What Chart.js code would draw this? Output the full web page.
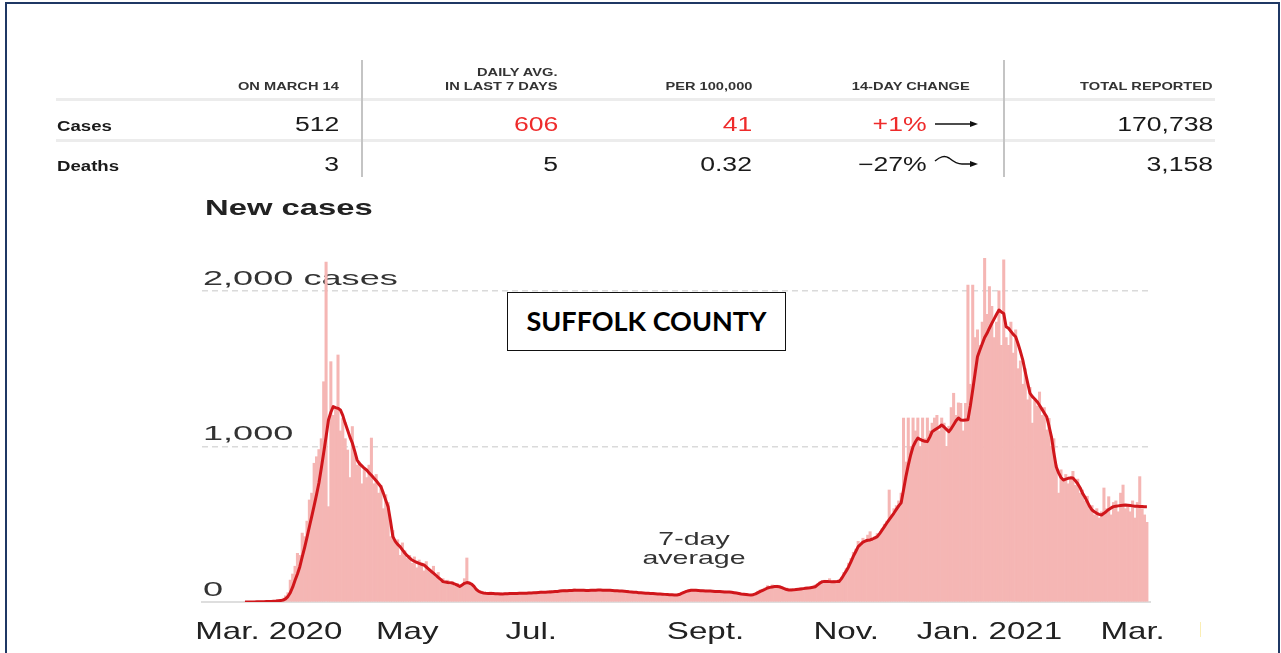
<!DOCTYPE html>
<html>
<head>
<meta charset="utf-8">
<script src="https://cdn.jsdelivr.net/npm/chart.js@4.4.1/dist/chart.umd.min.js"></script>
<style>
html, body { margin: 0; padding: 0; background: #fff; }
body { width: 1281px; height: 653px; overflow: hidden; position: relative;
       font-family: "Liberation Sans", Arial, sans-serif; color: #1a1a1a; }
#frame { position: absolute; left: 5px; top: 2px; width: 1275px; height: 720px;
         border: 2px solid #1f3864; box-sizing: border-box; }
#chart { position: absolute; left: 0; top: 0; }
.t { position: absolute; white-space: nowrap; line-height: 1; }
.hline { position: absolute; height: 3px; background: #ececec; }
.vline { position: absolute; width: 2px; background: #c4c4c4; }
#county { position: absolute; left: 507px; top: 292px; width: 279px; height: 59px;
          box-sizing: border-box; border: 1.5px solid #111; background: #fff;
          font: bold 27px Lato, "Open Sans", sans-serif; color: #000;
          text-align: center; line-height: 56px; }
#avgNote { position: absolute; left: 594px; top: 529px; width: 200px; text-align: center;
           font-size: 19px; line-height: 19px; color: #333; transform: scaleX(1.5); }
</style>
</head>
<body>
<div id="frame"></div>
<canvas id="chart" width="1281" height="653"></canvas>
<div id="county">SUFFOLK COUNTY</div>
<div id="avgNote">7-day<br>average</div>

<script>
// ---- table values ----
const colHeads = ["ON MARCH 14", "IN LAST 7 DAYS", "PER 100,000", "14-DAY CHANGE", "TOTAL REPORTED"];
const rowNames = ["Cases", "Deaths"];
const casesRow = ["512", "606", "41", "+1%", "170,738"];
const deathsRow = ["3", "5", "0.32", "\u221227%", "3,158"];

// ---- chart values (one per day, Mar 1 2020 .. Mar 14 2021) ----
const dailyCases = [
  0,0,0,0,1,1,2,2,3,4,
  2,5,6,8,10,12,25,40,60,141,
  180,230,313,300,443,420,520,656,700,892,
  934,980,1050,1416,2186,613,1545,1200,1250,1588,
  1100,1180,1050,977,800,1128,960,880,900,760,
  850,800,880,1054,760,820,700,750,600,690,
  640,420,460,380,400,300,380,330,280,300,
  250,290,220,270,250,200,260,210,190,230,
  160,190,130,150,120,140,110,130,100,120,
  90,110,150,283,130,110,90,70,60,70,
  50,60,55,65,45,55,50,60,48,58,
  55,50,60,52,62,50,58,60,54,64,
  55,62,66,58,70,60,66,62,75,68,
  62,72,76,70,80,68,78,72,85,74,
  70,80,74,72,78,70,82,76,80,74,
  72,80,74,78,70,76,68,74,66,72,
  64,70,60,66,58,64,56,62,54,60,
  52,58,50,56,48,54,46,52,44,50,
  42,48,52,60,66,72,78,82,74,80,
  70,78,68,76,66,74,64,72,66,70,
  62,70,60,68,58,64,54,60,50,56,
  44,50,42,55,58,70,78,82,90,105,
  98,110,96,108,92,100,82,90,74,84,
  72,88,78,92,80,96,86,100,90,110,
  118,130,125,140,128,150,120,138,126,145,
  160,190,215,250,280,320,340,390,360,410,
  380,430,452,400,420,440,430,470,500,520,
  720,560,600,620,650,700,1183,900,1183,1000,
  1183,1100,1183,1000,1183,1050,1183,1100,1150,1183,
  1200,1100,1183,1150,1000,1130,1250,1342,1200,1280,
  1277,1100,1277,2038,1400,2038,1700,1750,1650,1800,
  2210,1850,2027,1900,1700,1800,2000,1650,2199,1700,
  1650,1800,1600,1750,1500,1550,1400,1500,1300,1380,
  1150,1300,1260,1350,1200,1250,1106,1180,1000,1050,
  880,700,850,780,820,760,800,840,750,790,
  700,720,650,680,600,620,560,600,540,580,
  733,600,677,560,640,650,580,700,752,600,
  620,580,650,540,640,806,600,560,512
];

const sevenDayAvg = [
  0,0,0,0,0,1,1,2,2,3,
  3,4,5,6,8,10,12,20,35,60,
  95,140,180,227,290,350,415,484,550,620,
  690,765,860,960,1062,1170,1220,1256,1250,1245,
  1235,1200,1150,1106,1060,1022,970,913,890,875,
  860,849,830,815,797,780,760,741,700,655,
  613,520,420,390,370,356,335,315,298,284,
  270,262,255,248,243,238,225,212,198,186,
  172,158,145,131,128,125,123,122,115,108,
  100,110,120,125,122,115,100,80,68,62,
  58,56,55,54,54,53,53,52,52,53,
  53,54,54,55,55,56,56,57,57,58,
  58,59,60,61,62,62,63,64,65,66,
  67,68,70,72,72,73,74,74,75,76,
  76,75,75,74,74,75,76,76,77,77,
  76,76,75,75,74,73,72,71,70,69,
  68,66,65,63,62,60,59,58,57,56,
  55,54,53,52,51,50,49,48,47,46,
  45,45,48,55,62,68,72,75,76,75,
  74,73,72,71,70,70,69,68,68,67,
  66,65,65,64,62,60,58,55,52,50,
  48,46,45,47,52,60,68,75,82,90,
  94,97,99,100,98,92,86,80,77,77,
  78,80,82,84,86,88,90,92,95,98,
  110,122,131,132,132,131,130,130,131,131,
  150,175,200,227,260,295,325,356,370,385,
  392,397,399,405,412,420,440,462,485,508,
  530,551,572,595,618,637,720,806,880,945,
  999,1030,1054,1045,1038,1033,1031,1060,1095,1105,
  1115,1125,1138,1125,1110,1095,1115,1140,1165,1183,
  1170,1168,1170,1172,1260,1363,1470,1577,1620,1660,
  1700,1727,1760,1791,1820,1850,1877,1865,1855,1770,
  1760,1740,1720,1705,1660,1610,1555,1480,1410,1342,
  1320,1305,1288,1265,1240,1215,1191,1130,1062,960,
  870,830,800,784,790,795,798,797,780,760,
  735,700,675,645,615,591,580,570,563,559,
  570,582,595,605,613,616,618,620,622,624,
  622,620,618,616,615,614,614,613,613
];

const yTickValues = [0, 1000, 2000];
const yTickLabels = ["0", "1,000", "2,000 cases"];
const xTickDays = [10, 68, 120, 193, 252, 312, 372];
const xTickLabels = ["Mar. 2020", "May", "Jul.", "Sept.", "Nov.", "Jan. 2021", "Mar."];

/* ================= TABLE ================= */

function txt(str, x, baseline, size, opts) {
    opts = opts || {};
    const el = document.createElement("div");
    el.className = "t";
    el.textContent = str;
    el.style.fontSize = size + "px";
    el.style.top = (baseline - 0.8465 * size) + "px";
    if (opts.bold) el.style.fontWeight = "bold";
    if (opts.color) el.style.color = opts.color;
    const sx = opts.sx || 1.33;
    if (opts.align === "left") {
        el.style.left = x + "px";
        el.style.transformOrigin = "left top";
    } else {
        el.style.right = (1281 - x) + "px";
        el.style.transformOrigin = "right top";
    }
    el.style.transform = "scaleX(" + sx + ")";
    document.body.appendChild(el);
    return el;
}

function box(cls, left, top, w, h) {
    const el = document.createElement("div");
    el.className = cls;
    el.style.left = left + "px";
    el.style.top = top + "px";
    if (w) el.style.width = w + "px";
    if (h) el.style.height = h + "px";
    document.body.appendChild(el);
    return el;
}

box("hline", 56, 98, 1159);
box("hline", 56, 139, 1159);
box("vline", 361, 60, 0, 117);
box("vline", 1003, 60, 0, 117);

const headRight = [339, 558, 752, 970, 1213];
const valRight = [339, 558, 752, 927, 1213];
const red = "#ee2b2b";

txt("DAILY AVG.", 558, 76, 11, {bold: true, color: "#333"});
colHeads.forEach((h, i) => txt(h, headRight[i], 90, 11, {bold: true, color: "#333"}));

txt(rowNames[0], 57, 131, 14, {bold: true, align: "left"});
txt(rowNames[1], 57, 171, 14, {bold: true, align: "left"});

casesRow.forEach((v, i) => txt(v, valRight[i], 131, 20, {color: (i >= 1 && i <= 3) ? red : "#1a1a1a"}));
deathsRow.forEach((v, i) => txt(v, valRight[i], 171, 20));

// trend arrows
document.body.insertAdjacentHTML("beforeend",
    '<svg style="position:absolute;left:930px;top:114px" width="52" height="60">' +
    '<path d="M5 10 L42 10" stroke="#111" stroke-width="1.5" fill="none"/>' +
    '<path d="M40 7 L48 10 L40 13 Z" fill="#111"/>' +
    '<path d="M5 47 C10 43 14 41 19 44 C24 48 27 50 32 50 L42 50" stroke="#111" stroke-width="1.5" fill="none"/>' +
    '<path d="M40 47 L48 50 L40 53 Z" fill="#111"/>' +
    '</svg>');

txt("New cases", 205, 216, 22, {bold: true, align: "left", sx: 1.49, color: "#222"});

// small yellow mark at right of axis
box("t", 1200, 622, 1, 15).style.background = "#fbeeb4";

/* ================= CHART ================= */

const axisText = {
    id: "axisText",
    beforeDatasetsDraw(chart) {
        const {ctx, chartArea} = chart;
        const y = chart.scales.y;
        ctx.save();
        ctx.font = '21px "Liberation Sans"';
        ctx.fillStyle = "#333";
        yTickValues.forEach((v, i) => {
            ctx.save();
            ctx.translate(chartArea.left + 1, y.getPixelForValue(v) - 6);
            ctx.scale(1.72, 1);
            ctx.fillText(yTickLabels[i], 0, 0);
            ctx.restore();
        });
        ctx.restore();
    },
    afterDraw(chart) {
        const {ctx} = chart;
        const x = chart.scales.x;
        ctx.save();
        ctx.font = '24px "Liberation Sans"';
        ctx.fillStyle = "#222";
        ctx.textAlign = "center";
        xTickDays.forEach((d, i) => {
            ctx.save();
            ctx.translate(x.getPixelForValue(d), 639);
            ctx.scale(1.38, 1);
            ctx.fillText(xTickLabels[i], 0, 0);
            ctx.restore();
        });
        ctx.restore();
    }
};

const ctx = document.getElementById("chart").getContext("2d");

new Chart(ctx, {
    type: "bar",
    data: {
        datasets: [{
            type: "line",
            label: "7-day average",
            data: sevenDayAvg.map((v, i) => ({x: i, y: v})),
            borderColor: "#d0161b",
            borderWidth: 3,
            pointRadius: 0,
            tension: 0,
            borderJoinStyle: "round",
            order: 0
        }, {
            type: "bar",
            label: "New cases",
            data: dailyCases.map((v, i) => ({x: i, y: v})),
            backgroundColor: "#f5b6b4",
            barPercentage: 1,
            categoryPercentage: 1,
            borderWidth: 0,
            order: 1
        }]
    },
    options: {
        responsive: false,
        animation: false,
        layout: {padding: {left: 202, right: 131, top: 252, bottom: 51}},
        plugins: {legend: {display: false}, tooltip: {enabled: false}},
        scales: {
            x: {
                type: "linear",
                offset: false,
                min: -18,
                max: 379.3,
                ticks: {display: false},
                grid: {display: false, drawTicks: false, offset: false},
                border: {display: true, color: "#dedede", width: 2}
            },
            y: {
                min: 0,
                max: 2250,
                afterBuildTicks: s => { s.ticks = yTickValues.map(v => ({value: v})); },
                ticks: {display: false},
                grid: {
                    drawTicks: false,
                    lineWidth: 1.5,
                    color: c => (c.tick && c.tick.value === 0) ? "rgba(0,0,0,0)" : "#dadada"
                },
                border: {display: false, dash: [6, 4]}
            }
        }
    },
    plugins: [axisText]
});
</script>
</body>
</html>
